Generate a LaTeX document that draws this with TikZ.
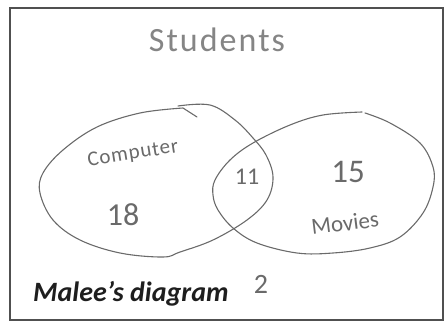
\documentclass[tikz,border=0pt]{standalone}
\usepackage{fontspec}
\setmainfont{Carlito}
\usepackage{tikz}
\definecolor{pencil}{HTML}{6A6A6A}
\definecolor{faint}{HTML}{858585}
\definecolor{ink}{HTML}{1E1E1E}
\definecolor{frameline}{HTML}{505050}
\tikzset{
  setline/.style={
    draw=pencil, line width=1.1pt,
    line join=round, line cap=round,
  },
  handtext/.style={
    text=pencil, inner sep=0pt,
    font=\fontsize{#1}{#1}\selectfont,
  },
  caption/.style={
    text=ink, inner sep=0pt,
    font=\fontsize{28}{30}\selectfont\bfseries\itshape,
  },
}

\begin{document}
\begin{tikzpicture}[x=1pt, y=1pt]

  \useasboundingbox (0,0) rectangle (444,322);
  \draw[frameline, line width=1.8pt] (10,2) rectangle (443,314);

  % Computer set
  \draw[setline] plot[smooth, tension=0.6] coordinates {
    (178,216) (210,217) (235,202) (253,184) (266,167) (273,145)
    (267,122) (247,102) (213,82) (180,70) (163,65) (120,69)
    (80,82) (53,102) (40,129) (43,149) (63,172) (97,195)
    (140,209) (183,214)} -- (197,205);

  % Movies set
  \draw[setline] plot[smooth, tension=0.6] coordinates {
    (365,209) (390,199) (420,179) (433,155) (433,135) (423,109)
    (400,85) (370,74) (333,69) (297,69) (257,79) (233,94)
    (218,112) (213,127) (215,142) (230,162) (253,179) (290,197)
    (323,207) (362,210)};

  \node[handtext=33, text=faint,
        font=\fontsize{34}{34}\selectfont\addfontfeatures{LetterSpace=6}]
        (students) at (217,282) {Students};
  \node[handtext=21, rotate=9,
        font=\fontsize{21}{21}\selectfont\addfontfeatures{LetterSpace=4}]
        (computer) at (133,168) {Computer};
  \node[handtext=32] (only18) at (123,107) {18};
  \node[handtext=24] (both11) at (247,145) {11};
  \node[handtext=33] (only15) at (348,150) {15};
  \node[handtext=23, rotate=7] (movies) at (345,99) {Movies};
  \node[handtext=28] (neither2) at (261,38) {2};
  \node[caption, anchor=base west] (malee) at (33,21) {Malee’s diagram};

\end{tikzpicture}
\end{document}
